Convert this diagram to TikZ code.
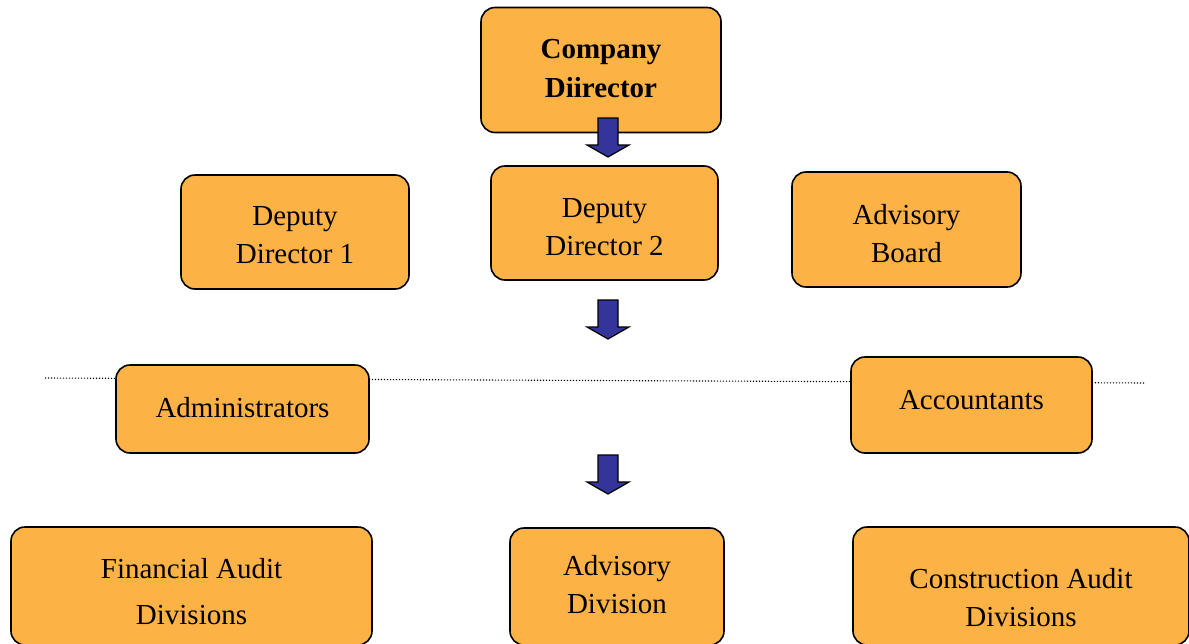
\documentclass[tikz,border=0pt]{standalone}
\usepackage{fontspec}
\setmainfont{Liberation Serif}
\usetikzlibrary{calc}
\definecolor{boxorange}{HTML}{FDB245}
\definecolor{arrowblue}{HTML}{34349A}
\newcommand\blkarrow[1]{%
  \fill[arrowblue,draw=black,line width=1.2pt,line join=miter]
    ($(#1)+(-10,0)$) -- ++(20,0) -- ++(0,27) -- ++(11,0) -- ++(-21,12)
    -- ++(-21,-12) -- ++(11,0) -- cycle;}
\begin{document}
\begin{tikzpicture}[x=1pt,y=-1pt,
  orgbox/.style={draw=black,line width=1.6pt,fill=boxorange,rounded corners=14pt,inner sep=0pt},
  orgtext/.style={align=center,inner sep=0pt,font=\fontsize{29}{38.5}\selectfont},
  sep/.style={line width=1.1pt,dash pattern=on 1.1pt off 1.9pt}]
\useasboundingbox (0,0) rectangle (1189,643);
% dotted separator
\coordinate (dl) at (45,378);
\coordinate (dr) at (1145,383);
\draw[sep] (dl) -- (dr);
% boxes
\node[orgbox,minimum width=240,minimum height=125] (cd) at (601,70) {};
\node[orgbox,minimum width=228,minimum height=114] (dd1) at (295,232) {};
\node[orgbox,minimum width=227,minimum height=114] (dd2) at (604.5,223) {};
\node[orgbox,minimum width=229,minimum height=115] (ab) at (906.5,229.5) {};
\node[orgbox,minimum width=253,minimum height=88] (adm) at (242.5,409) {};
\node[orgbox,minimum width=241,minimum height=96] (acc) at (971.5,405) {};
\node[orgbox,minimum width=361,minimum height=118] (fad) at (191.5,586) {};
\node[orgbox,minimum width=214,minimum height=117] (adv) at (617,586.5) {};
\node[orgbox,minimum width=336,minimum height=118] (cad) at (1021,586) {};
% texts
\node[orgtext,font=\fontsize{29}{39}\selectfont\bfseries] (cdt) at (601,69) {Company\\Diirector};
\node[orgtext] (dd1t) at (295,235) {Deputy\\Director 1};
\node[orgtext] (dd2t) at (604.5,227) {Deputy\\Director 2};
\node[orgtext] (abt) at (906.5,233.5) {Advisory\\Board};
\node[orgtext] (admt) at (242.5,408) {Administrators};
\node[orgtext] (acct) at (971.5,400) {Accountants};
\node[orgtext,font=\fontsize{29}{46}\selectfont] (fadt) at (191.5,592) {Financial Audit\\Divisions};
\node[orgtext] (advt) at (617,584.5) {Advisory\\Division};
\node[orgtext] (cadt) at (1021,597.5) {Construction Audit\\Divisions};
% block arrows
\coordinate (a1) at (608,118);
\coordinate (a2) at (608,300);
\coordinate (a3) at (608,455);
\blkarrow{a1}
\blkarrow{a2}
\blkarrow{a3}
\end{tikzpicture}
\end{document}
